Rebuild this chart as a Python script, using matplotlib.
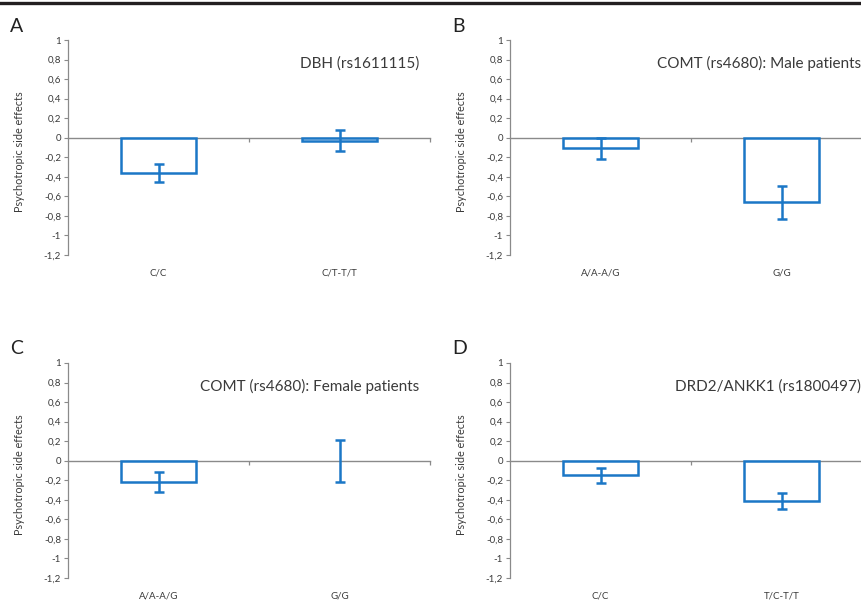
import matplotlib
matplotlib.use("Agg")
import matplotlib.pyplot as plt
import numpy as np

# Panel data ------------------------------------------------------------
panel_letters = ["A", "B", "C", "D"]
panel_titles = [
    "DBH (rs1611115)",
    "COMT (rs4680): Male patients",
    "COMT (rs4680): Female patients",
    "DRD2/ANKK1 (rs1800497)",
]
panel_categories = [
    ["C/C", "C/T-T/T"],
    ["A/A-A/G", "G/G"],
    ["A/A-A/G", "G/G"],
    ["C/C", "T/C-T/T"],
]
panel_values = [
    [-0.36, -0.03],
    [-0.11, -0.66],
    [-0.22, 0.0],
    [-0.15, -0.41],
]
panel_errors = [
    [0.09, 0.105],
    [0.11, 0.17],
    [0.10, 0.215],
    [0.08, 0.08],
]
y_ticks = [1, 0.8, 0.6, 0.4, 0.2, 0, -0.2, -0.4, -0.6, -0.8, -1, -1.2]
y_label = "Psychotropic side effects"

BLUE = "#1b77c6"
GREY = "#8a8a8a"
TEXT = "#3a3a3a"

plt.rcParams["font.family"] = ["Lato", "DejaVu Sans"]

W, H = 861, 602
fig = plt.figure(figsize=(W / 100, H / 100), dpi=100)

# axes rectangles in pixels: left, top, right, bottom
boxes = [
    (68, 40, 430, 255),
    (510, 40, 872, 255),
    (68, 363, 430, 578),
    (510, 363, 872, 578),
]

# thick rule along the top
fig.add_artist(plt.Line2D([0, 1], [1 - 3 / H, 1 - 3 / H], color="#231f20", lw=2.4))

for i, (l, t, r, b) in enumerate(boxes):
    ax = fig.add_axes([l / W, 1 - b / H, (r - l) / W, (b - t) / H])
    cats = panel_categories[i]
    vals = np.array(panel_values[i])
    errs = np.array(panel_errors[i])
    x = np.arange(len(cats))

    lws = [1.8 if v != 0 else 0 for v in vals]
    ax.bar(x, vals, width=0.41, facecolor="white", edgecolor=BLUE,
           linewidth=lws, zorder=3)
    ax.errorbar(x, vals, yerr=errs, fmt="none", ecolor=BLUE, elinewidth=1.8,
                capsize=3.5, capthick=1.8, zorder=4)

    ax.set_xlim(-0.5, len(cats) - 0.5)
    ax.set_ylim(-1.2, 1.0)
    ax.set_yticks(y_ticks)
    ax.set_yticklabels([f"{v:g}".replace(".", ",") for v in y_ticks])
    ax.tick_params(axis="y", direction="out", length=3, width=0.8,
                   color=GREY, labelsize=7, labelcolor=TEXT, pad=2)

    for s in ("top", "right"):
        ax.spines[s].set_visible(False)
    ax.spines["left"].set_color(GREY)
    ax.spines["left"].set_linewidth(0.9)
    ax.spines["bottom"].set_position(("data", 0))
    ax.spines["bottom"].set_color(GREY)
    ax.spines["bottom"].set_linewidth(1.0)

    # category boundaries as ticks on the zero line
    ax.set_xticks(x + 0.5)
    ax.set_xticklabels([])
    ax.tick_params(axis="x", direction="out", length=3, width=0.9, color=GREY)

    for xi, c in zip(x, cats):
        ax.text(xi, -0.085, c, transform=ax.get_xaxis_transform(),
                ha="center", va="center", fontsize=7, color=TEXT)

    ax.set_ylabel(y_label, fontsize=7.8, color=TEXT)
    ax.yaxis.set_label_coords(-0.12, 0.48)
    ax.text(0.97, 0.89, panel_titles[i], transform=ax.transAxes,
            ha="right", va="center", fontsize=11, color=TEXT)
    fig.text((l - 58) / W, 1 - (t - 14) / H, panel_letters[i],
             ha="left", va="center", fontsize=14, color="#222222")

fig.savefig("out.png", dpi=100)
